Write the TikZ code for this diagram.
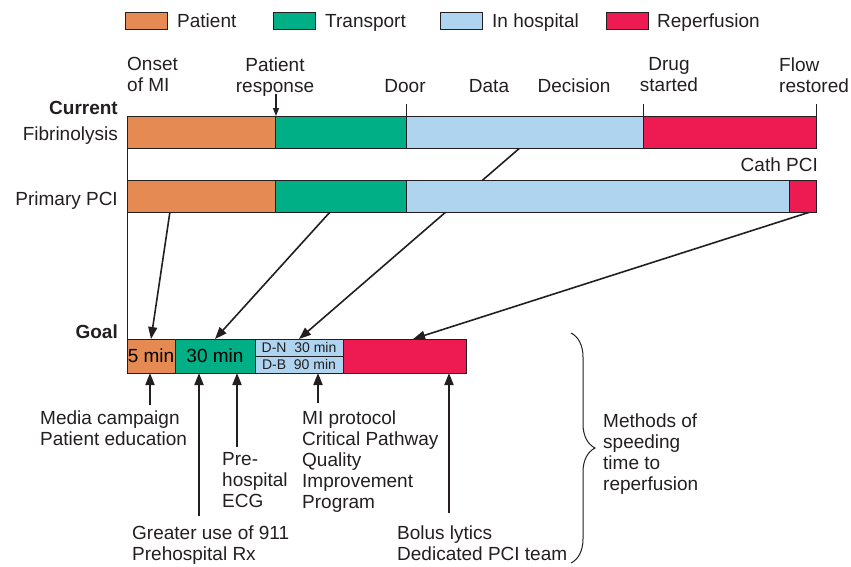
\documentclass[tikz,border=0pt]{standalone}
\usepackage{fontspec}
\setmainfont{Liberation Sans}
\usetikzlibrary{arrows.meta,decorations.pathreplacing,calc}
\definecolor{cPat}{HTML}{E58A53}
\definecolor{cTra}{HTML}{00AF85}
\definecolor{cHos}{HTML}{AED4F0}
\definecolor{cRep}{HTML}{EE1A52}
\definecolor{cLine}{HTML}{231F20}
\pgfdeclarelayer{bg}
\pgfsetlayers{bg,main}
\begin{document}
\begin{tikzpicture}[x=1pt,y=-1pt,
  seg/.style={draw=cLine, line width=0.9pt, inner sep=0pt, outer sep=0pt, anchor=north west},
  legbox/.style={seg, minimum width=42pt, minimum height=17pt},
  txt/.style={font=\fontsize{19}{21}\selectfont, inner sep=0pt, text=cLine},
  btxt/.style={font=\fontsize{19}{21}\selectfont\bfseries, inner sep=0pt, text=cLine},
  smalltxt/.style={font=\fontsize{14}{15}\selectfont, text=cLine},
  arr/.style={draw=cLine, line width=2pt, -{Triangle[length=12pt,width=9pt]}},
  diag/.style={draw=cLine, line width=1.6pt, -{Triangle[length=12pt,width=9pt]}},
  thinline/.style={draw=cLine, line width=0.9pt}]
\useasboundingbox (0,0) rectangle (851,566);

% legend
\node[legbox, fill=cPat] (lp) at (125,12) {};
\node[txt, anchor=base west] (lpt) at (177,27) {Patient};
\node[legbox, fill=cTra] (lt) at (273,12) {};
\node[txt, anchor=base west] (ltt) at (325,27) {Transport};
\node[legbox, fill=cHos] (lh) at (440,12) {};
\node[txt, anchor=base west] (lht) at (492,27) {In hospital};
\node[legbox, fill=cRep] (lr) at (606,12) {};
\node[txt, anchor=base west] (lrt) at (657,27) {Reperfusion};

% top labels
\node[txt, anchor=north west, align=left] (onset) at (127,57.3) {Onset\\of MI};
\node[txt, anchor=north, align=center] (resp) at (275,57.3) {Patient\\response};
\node[txt, anchor=base] (door) at (405,92) {Door};
\node[txt, anchor=base] (data) at (489,92) {Data};
\node[txt, anchor=base] (dec) at (574,92) {Decision};
\node[txt, anchor=north, align=center] (drug) at (669,57.3) {Drug\\started};
\node[txt, anchor=north west, align=left] (flow) at (779,57.3) {Flow\\restored};

% left labels
\node[btxt, anchor=base east] (cur) at (118,114) {Current};
\node[txt, anchor=base east] (fib) at (118,140) {Fibrinolysis};
\node[txt, anchor=base east] (ppci) at (118,205) {Primary PCI};
\node[txt, anchor=base east] (cath) at (818,171) {Cath PCI};
\node[btxt, anchor=base east] (goal) at (118,338) {Goal};

% fibrinolysis bar
\node[seg, fill=cPat, minimum width=148pt, minimum height=32pt] (f1) at (127,116) {};
\node[seg, fill=cTra, minimum width=131pt, minimum height=32pt] (f2) at (275,116) {};
\node[seg, fill=cHos, minimum width=237pt, minimum height=32pt] (f3) at (406,116) {};
\node[seg, fill=cRep, minimum width=173pt, minimum height=32pt] (f4) at (643,116) {};
% primary PCI bar
\node[seg, fill=cPat, minimum width=148pt, minimum height=32pt] (p1) at (127,180) {};
\node[seg, fill=cTra, minimum width=131pt, minimum height=32pt] (p2) at (275,180) {};
\node[seg, fill=cHos, minimum width=383pt, minimum height=32pt] (p3) at (406,180) {};
\node[seg, fill=cRep, minimum width=27pt, minimum height=32pt] (p4) at (789,180) {};
% goal bar
\node[seg, fill=cPat, minimum width=48pt, minimum height=34pt, font=\fontsize{19}{21}\selectfont] (g1) at (127,339) {5 min};
\node[seg, fill=cTra, minimum width=80pt, minimum height=34pt, font=\fontsize{19}{21}\selectfont] (g2) at (175,339) {30 min};
\node[seg, fill=cHos, minimum width=88pt, minimum height=17pt, smalltxt] (g3a) at (255,339) {D-N\ \ 30 min};
\node[seg, fill=cHos, minimum width=88pt, minimum height=17pt, smalltxt] (g3b) at (255,356) {D-B\ \ 90 min};
\node[seg, fill=cRep, minimum width=123pt, minimum height=34pt] (g4) at (343,339) {};

% ticks and response arrow
\draw[thinline] (f3.north west) -- ++(0,-12);
\draw[thinline] (f4.north west) -- ++(0,-12);
\draw[thinline] (f4.north east) -- ++(0,-12);
\coordinate (r0) at (276,94);
\draw[thinline, line width=1.1pt, -{Triangle[length=8pt,width=6pt]}] (r0) -- (r0 |- f2.north);

% left vertical line
\draw[thinline] (f1.south west) -- (p1.north west);
\draw[thinline] (p1.south west) -- (g1.north west);

% diagonal arrows
\coordinate (s1) at ($(p1.south west)!0.29!(p1.south east)$);
\coordinate (s2) at ($(p2.south west)!0.42!(p2.south east)$);
\coordinate (s3) at ($(f3.south west)!0.48!(f3.south east)$);
\coordinate (s4) at ($(p4.south west)!0.78!(p4.south east)$);
\coordinate (t4) at ($(g4.north west)!0.57!(g4.north east)$);
\begin{pgfonlayer}{bg}
\draw[diag] (s1) -- (g1.north);
\draw[diag] (s2) -- (g2.north);
\draw[diag] (s3) -- (g3a.north);
\draw[diag] (s4) -- (t4);
\end{pgfonlayer}

% bottom labels and arrows
\node[txt, anchor=north west, align=left] (m1) at (40,410.3) {Media campaign\\Patient education};
\node[txt, anchor=north west, align=left] (m2) at (132,525.3) {Greater use of 911\\Prehospital Rx};
\node[txt, anchor=north west, align=left] (m3) at (222,452.3) {Pre-\\hospital\\ECG};
\node[txt, anchor=north west, align=left] (m4) at (302,410.3) {MI protocol\\Critical Pathway\\Quality\\Improvement\\Program};
\node[txt, anchor=north west, align=left] (m5) at (397,525.3) {Bolus lytics\\Dedicated PCI team};
\coordinate (b1) at (150,405);
\coordinate (b2) at (199,516);
\coordinate (b3) at (237,447);
\coordinate (b4) at (318,403);
\coordinate (b5) at (449,513);
\draw[arr] (b1) -- (b1 |- g1.south);
\draw[arr] (b2) -- (b2 |- g2.south);
\draw[arr] (b3) -- (b3 |- g2.south);
\draw[arr] (b4) -- (b4 |- g3b.south);
\draw[arr] (b5) -- (b5 |- g4.south);

% brace
\coordinate (br1) at (571,333);
\coordinate (br2) at (571,563);
\draw[thinline, line width=1pt, decorate, decoration={brace, amplitude=24pt}] (br1) -- (br2);
\node[txt, anchor=north west, align=left] (meth) at (603,413.3) {Methods of\\speeding\\time to\\reperfusion};
\end{tikzpicture}
\end{document}
